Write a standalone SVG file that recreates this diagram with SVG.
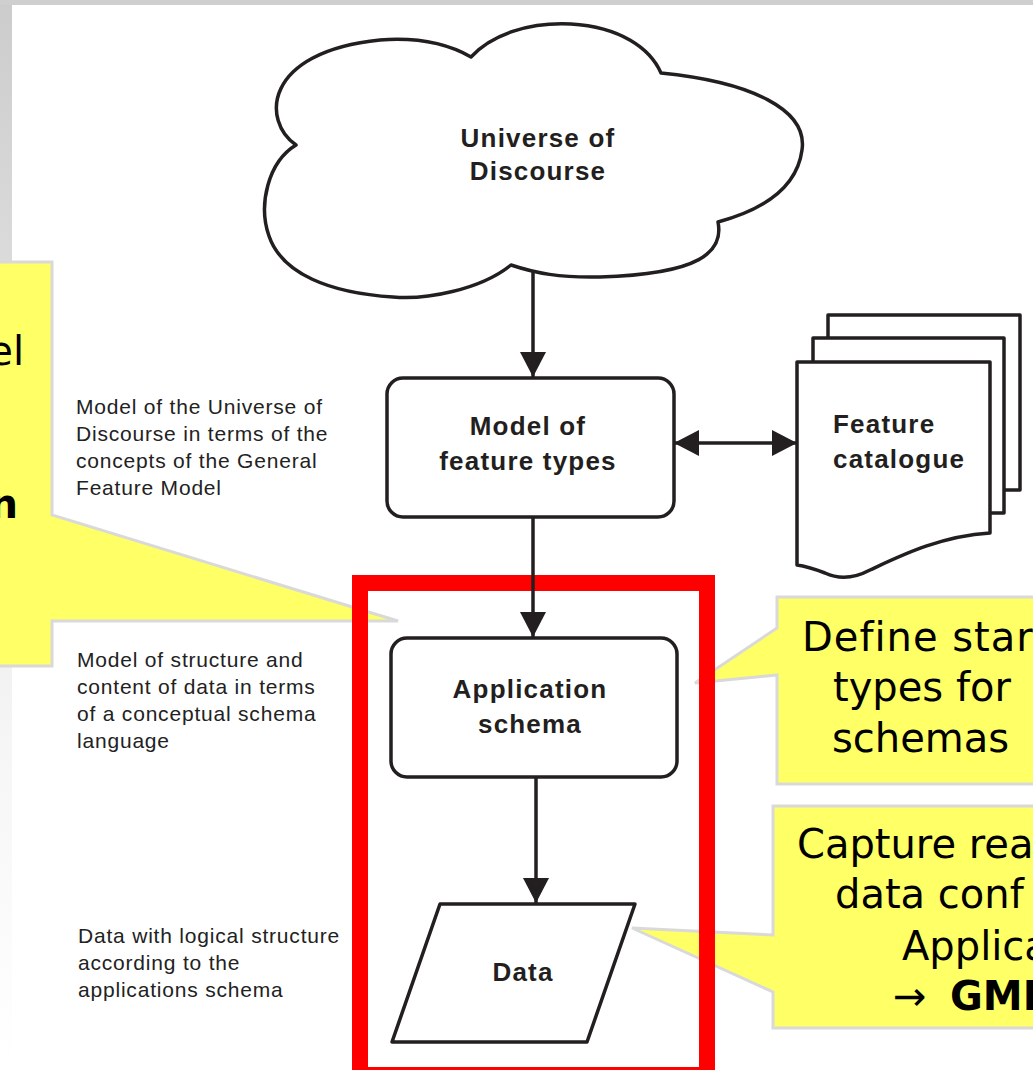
<svg xmlns="http://www.w3.org/2000/svg" width="1033" height="1070" viewBox="0 0 1033 1070">
<defs>
<linearGradient id="side" x1="0" y1="0" x2="0" y2="1">
<stop offset="0" stop-color="#cccccc"/>
<stop offset="0.7" stop-color="#f6f6f6"/>
<stop offset="1" stop-color="#ffffff"/>
</linearGradient>
<marker id="ah" viewBox="0 0 25 26" refX="25" refY="13" markerWidth="25" markerHeight="26" markerUnits="userSpaceOnUse" orient="auto-start-reverse">
<path d="M0,0 L25,13 L0,26 Z" fill="#231f20"/>
</marker>
<style>
.shape{fill:#ffffff;stroke:#231f20;stroke-width:3.5;stroke-linejoin:round}
.node{font-family:"Liberation Sans",Arial,sans-serif;font-weight:bold;font-size:26px;fill:#231f20;letter-spacing:1.2px;text-anchor:middle}
.nodel{font-family:"Liberation Sans",Arial,sans-serif;font-weight:bold;font-size:26px;fill:#231f20;letter-spacing:1.2px}
.desc{font-family:"Liberation Sans",Arial,sans-serif;font-size:21px;fill:#222222;letter-spacing:0.8px}
.callout{fill:#ffff66;stroke:#d9d9d9;stroke-width:3}
.ct{font-family:"DejaVu Sans",Verdana,sans-serif;font-size:40px;fill:#000000}
.conn{fill:none;stroke:#231f20;stroke-width:3.5}
</style>
</defs>
<rect x="0" y="0" width="1033" height="1070" fill="#ffffff"/>
<rect x="0" y="0" width="12" height="1070" fill="url(#side)"/>
<rect x="0" y="0" width="1033" height="5" fill="#cfcfcf"/>

<g id="callout-left">
<path class="callout" d="M-5,262 H52 V515 L398,621 H52 V666 H-5 Z"/>
<text class="ct" x="24" y="365" text-anchor="end">el</text>
<text class="ct" x="18" y="518" text-anchor="end" font-weight="bold">n</text>
</g>

<g id="callout-define">
<path class="callout" d="M777,597 H1045 V784 H777 V675 L695,683 L777,628 Z"/>
<text class="ct" x="802" y="651" letter-spacing="1">Define star</text>
<text class="ct" x="833" y="701">types for</text>
<text class="ct" x="832" y="752">schemas</text>
</g>

<g id="callout-capture">
<path class="callout" d="M773,806 H1045 V1028 H773 V992 L632,928 L773,935 Z"/>
<text class="ct" x="797" y="858">Capture rea</text>
<text class="ct" x="835" y="908">data conf</text>
<text class="ct" x="902" y="960">Applica</text>
<text class="ct" x="893" y="1010">→<tspan x="950" font-weight="bold">GML</tspan></text>
</g>

<g id="highlight">
<rect x="360" y="583" width="347" height="492" fill="none" stroke="#ff0000" stroke-width="16"/>
</g>

<g id="connectors">
<line class="conn" x1="533" y1="272" x2="533" y2="377" marker-end="url(#ah)"/>
<line class="conn" x1="674" y1="443" x2="797" y2="443" marker-start="url(#ah)" marker-end="url(#ah)"/>
<line class="conn" x1="533" y1="517" x2="533" y2="637" marker-end="url(#ah)"/>
<line class="conn" x1="536" y1="777" x2="536" y2="903" marker-end="url(#ah)"/>
</g>

<g id="universe">
<path class="shape" d="M296,145 C262,122 262,52 380,40 C420,37 450,45 471,57 C492,34 530,22 571,24 C620,27 650,48 661,73 C752,82 808,110 802,150 C797,188 762,210 718,222 C724,252 700,274 600,277 C560,278 535,273 511,265 C480,290 425,300 393,297 C330,293 282,274 269,236 C258,205 268,162 296,145 Z"/>
<text class="node" x="538" y="147">Universe of</text>
<text class="node" x="538" y="180">Discourse</text>
</g>

<g id="model-feature-types">
<rect class="shape" x="387" y="378" width="287" height="139" rx="16" ry="16"/>
<text class="node" x="528" y="435">Model of</text>
<text class="node" x="528" y="470">feature types</text>
</g>

<g id="feature-catalogue">
<rect class="shape" x="828" y="315" width="192" height="175"/>
<rect class="shape" x="813" y="338" width="191" height="175"/>
<path class="shape" d="M797,362 H990 V533 C940,536 900,556 870,570 C855,578 840,580 825,573 C812,568 805,566 797,565 Z"/>
<text class="nodel" x="833" y="433">Feature</text>
<text class="nodel" x="833" y="468">catalogue</text>
</g>

<g id="application-schema">
<rect class="shape" x="391" y="638" width="286" height="139" rx="16" ry="16"/>
<text class="node" x="530" y="698">Application</text>
<text class="node" x="530" y="733">schema</text>
</g>

<g id="data">
<path class="shape" d="M440,904 H635 L587,1042 H392 Z"/>
<text class="node" x="523" y="981">Data</text>
</g>

<g id="descriptions">
<text class="desc" x="76" y="414">Model of the Universe of</text>
<text class="desc" x="76" y="441">Discourse in terms of the</text>
<text class="desc" x="76" y="468">concepts of the General</text>
<text class="desc" x="76" y="495">Feature Model</text>
<text class="desc" x="77" y="667">Model of structure and</text>
<text class="desc" x="77" y="694">content of data in terms</text>
<text class="desc" x="77" y="721">of a conceptual schema</text>
<text class="desc" x="77" y="748">language</text>
<text class="desc" x="78" y="943">Data with logical structure</text>
<text class="desc" x="78" y="970">according to the</text>
<text class="desc" x="78" y="997">applications schema</text>
</g>
</svg>
